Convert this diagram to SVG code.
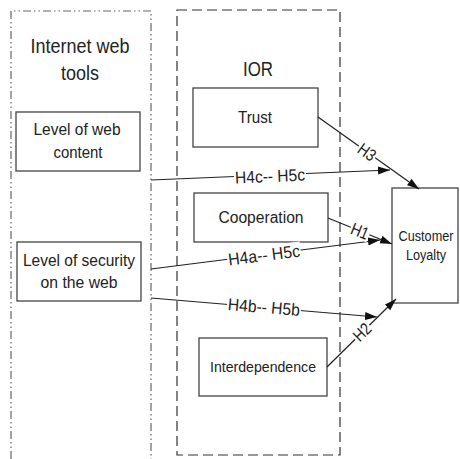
<svg xmlns="http://www.w3.org/2000/svg" width="460" height="459" viewBox="0 0 460 459">
<style>
.box{fill:#fff;stroke:#444;stroke-width:1.3}
.t{font-family:"Liberation Sans",Arial,sans-serif;fill:#222;text-anchor:middle}
.ln{stroke:#222;stroke-width:1.2;fill:none}
.lb{fill:#fff}
</style>
<defs>
<marker id="ah" markerUnits="userSpaceOnUse" markerWidth="13" markerHeight="9" refX="12" refY="4" orient="auto">
<path d="M0,0 L12,4 L0,8 z" fill="#111"/>
</marker>
</defs>
<rect width="460" height="459" fill="#fff"/>
<g id="internet-web-tools">
<path d="M11,459 V11 H151 V459" fill="none" stroke="#666" stroke-width="1.2" stroke-dasharray="8,3,1.5,3,1.5,3"/>
<text class="t" x="80" y="53" font-size="20" textLength="99" lengthAdjust="spacingAndGlyphs">Internet web</text>
<text class="t" x="80" y="80" font-size="20" textLength="38" lengthAdjust="spacingAndGlyphs">tools</text>
</g>
<g id="ior">
<rect x="177" y="10" width="163" height="445" fill="none" stroke="#333" stroke-width="1.2" stroke-dasharray="10,5"/>
<text class="t" x="258" y="76" font-size="20" textLength="30" lengthAdjust="spacingAndGlyphs">IOR</text>
</g>
<g id="level-web-content">
<rect class="box" x="16" y="112" width="124" height="59"/>
<text class="t" x="77" y="135" font-size="16" textLength="87" lengthAdjust="spacingAndGlyphs">Level of web</text>
<text class="t" x="78" y="158" font-size="16" textLength="49" lengthAdjust="spacingAndGlyphs">content</text>
</g>
<g id="level-security">
<rect class="box" x="17" y="242" width="124" height="59"/>
<text class="t" x="79" y="266" font-size="16" textLength="112" lengthAdjust="spacingAndGlyphs">Level of security</text>
<text class="t" x="79" y="288" font-size="16" textLength="77" lengthAdjust="spacingAndGlyphs">on the web</text>
</g>
<g id="trust">
<rect class="box" x="193" y="88" width="125" height="59"/>
<text class="t" x="255" y="123" font-size="16" textLength="34" lengthAdjust="spacingAndGlyphs">Trust</text>
</g>
<g id="cooperation">
<rect class="box" x="194" y="193" width="134" height="49"/>
<text class="t" x="261" y="223" font-size="16" textLength="85" lengthAdjust="spacingAndGlyphs">Cooperation</text>
</g>
<g id="interdependence">
<rect class="box" x="199" y="338" width="128" height="58"/>
<text class="t" x="263" y="372" font-size="15" textLength="106" lengthAdjust="spacingAndGlyphs">Interdependence</text>
</g>
<g id="customer-loyalty">
<rect class="box" x="392" y="188" width="66" height="115"/>
<text class="t" x="426" y="241" font-size="14" textLength="55" lengthAdjust="spacingAndGlyphs">Customer</text>
<text class="t" x="426" y="260" font-size="14" textLength="40" lengthAdjust="spacingAndGlyphs">Loyalty</text>
</g>
<g id="connectors">
<line class="ln" x1="151" y1="180" x2="390" y2="170" marker-end="url(#ah)"/>
<line class="ln" x1="318" y1="117" x2="419" y2="189" marker-end="url(#ah)"/>
<line class="ln" x1="328" y1="218" x2="392" y2="244" marker-end="url(#ah)"/>
<line class="ln" x1="151" y1="269" x2="380" y2="240" marker-end="url(#ah)"/>
<line class="ln" x1="151" y1="298" x2="377" y2="317" marker-end="url(#ah)"/>
<line class="ln" x1="327" y1="367" x2="396" y2="299" marker-end="url(#ah)"/>
<g transform="translate(270,176) rotate(-2.4)">
<rect class="lb" x="-36" y="-9" width="72" height="17"/>
<text class="t" x="0" y="6" font-size="17" textLength="70" lengthAdjust="spacingAndGlyphs">H4c-- H5c</text>
</g>
<g transform="translate(264,255) rotate(-7.2)">
<rect class="lb" x="-37" y="-9" width="74" height="17"/>
<text class="t" x="0" y="6" font-size="17" textLength="72" lengthAdjust="spacingAndGlyphs">H4a-- H5c</text>
</g>
<g transform="translate(264,307) rotate(4.8)">
<rect class="lb" x="-37" y="-9" width="74" height="17"/>
<text class="t" x="0" y="6" font-size="17" textLength="72" lengthAdjust="spacingAndGlyphs">H4b-- H5b</text>
</g>
<g transform="translate(367,152) rotate(35.5)">
<rect class="lb" x="-10" y="-9" width="20" height="17"/>
<text class="t" x="0" y="6" font-size="17" textLength="18" lengthAdjust="spacingAndGlyphs">H3</text>
</g>
<g transform="translate(360,231) rotate(22)">
<rect class="lb" x="-10" y="-9" width="20" height="17"/>
<text class="t" x="0" y="6" font-size="17" textLength="18" lengthAdjust="spacingAndGlyphs">H1</text>
</g>
<g transform="translate(362,332) rotate(-44.6)">
<rect class="lb" x="-10" y="-9" width="20" height="17"/>
<text class="t" x="0" y="6" font-size="17" textLength="18" lengthAdjust="spacingAndGlyphs">H2</text>
</g>
</g>
</svg>
